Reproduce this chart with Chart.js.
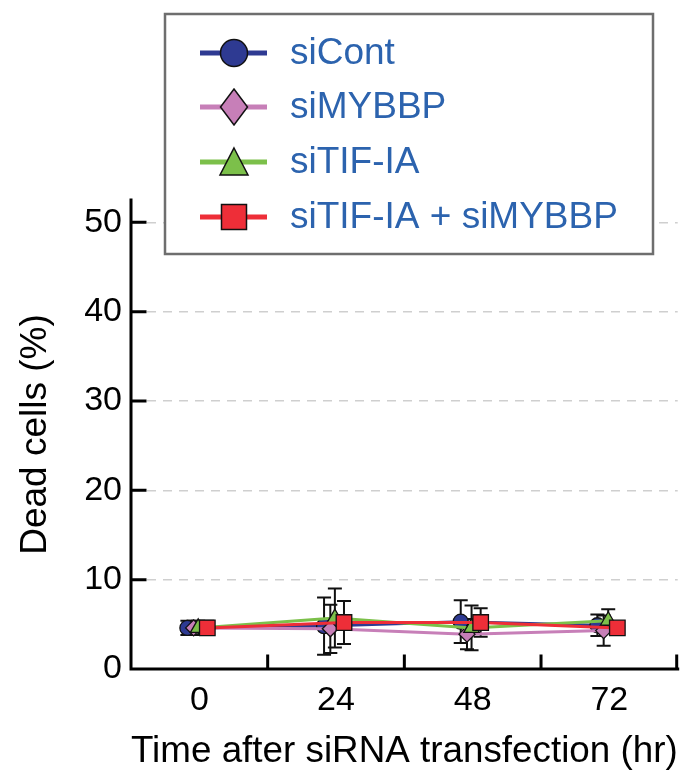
<!DOCTYPE html>
<html>
<head>
<meta charset="utf-8">
<script src="https://cdn.jsdelivr.net/npm/chart.js@4.4.1/dist/chart.umd.min.js"></script>
<style>
  html, body { margin: 0; padding: 0; background: #fff; }
  #wrap { width: 690px; height: 775px; }
</style>
</head>
<body>
<div id="wrap"><canvas id="chart-dead"></canvas></div>
<script>
// values (dead cells %, mean and error)
var hours = [0, 24, 48, 72];
var seriesNames = ["siCont", "siMYBBP", "siTIF-IA", "siTIF-IA + siMYBBP"];
var siCont = [4.6, 4.8, 5.3, 4.9];
var siContErr = [0.8, 3.2, 2.4, 1.2];
var siMYBBP = [4.6, 4.5, 3.9, 4.3];
var siMYBBPErr = [0.8, 2.7, 1.7, 1.7];
var siTIF = [4.6, 5.7, 4.6, 5.4];
var siTIFErr = [0.8, 3.3, 2.5, 1.3];
var siBoth = [4.6, 5.2, 5.2, 4.6];
var siBothErr = [0.8, 2.4, 1.6, 0.5];
var yTicks = [0, 10, 20, 30, 40, 50];

// styling
var colors = ["#2E3A92", "#C77FB8", "#7CC04A", "#EE2E38"];
var shapes = ["circle", "rectRot", "triangle", "rect"];
var radii = [7.5, 8, 9, 11];
var nudge = [-2.1, -1.0, -0.2, 1.4]; // small horizontal dodge per series (hours)
var FONT = "'Liberation Sans', Arial, sans-serif";

var means = [siCont, siMYBBP, siTIF, siBoth];
var errs = [siContErr, siMYBBPErr, siTIFErr, siBothErr];

var datasets = means.map(function (vals, s) {
  return {
    label: seriesNames[s],
    data: hours.map(function (h, i) { return { x: h + nudge[s], y: vals[i] }; }),
    err: errs[s],
    order: 4 - s, // later series on top
    borderColor: colors[s],
    backgroundColor: colors[s],
    borderWidth: 3,
    tension: 0,
    pointStyle: shapes[s],
    pointRadius: radii[s],
    pointHoverRadius: radii[s],
    pointBackgroundColor: colors[s],
    pointBorderColor: "#111",
    pointBorderWidth: 1.3,
  };
});

var errorBars = {
  id: "errorBars",
  beforeDatasetsDraw: function (chart) {
    var ctx = chart.ctx;
    var y = chart.scales.y;
    ctx.save();
    ctx.strokeStyle = "#111";
    ctx.lineWidth = 2;
    chart.data.datasets.forEach(function (ds, s) {
      var meta = chart.getDatasetMeta(s);
      meta.data.forEach(function (pt, i) {
        var v = ds.data[i].y, e = ds.err[i];
        var top = y.getPixelForValue(v + e), bot = y.getPixelForValue(v - e);
        ctx.beginPath();
        ctx.moveTo(pt.x, top); ctx.lineTo(pt.x, bot);
        ctx.moveTo(pt.x - 7, top); ctx.lineTo(pt.x + 7, top);
        ctx.moveTo(pt.x - 7, bot); ctx.lineTo(pt.x + 7, bot);
        ctx.stroke();
      });
    });
    ctx.restore();
  },
};

var axisTicks = {
  id: "axisTicks",
  afterDraw: function (chart) {
    var ctx = chart.ctx, a = chart.chartArea;
    var x = chart.scales.x, y = chart.scales.y;
    ctx.save();
    ctx.strokeStyle = "#000";
    ctx.lineWidth = 3;
    ctx.lineCap = "square";
    ctx.beginPath();
    ctx.moveTo(a.left, a.top); ctx.lineTo(a.left, a.bottom); ctx.lineTo(a.right, a.bottom);
    yTicks.slice(1).forEach(function (v) {
      var py = y.getPixelForValue(v);
      ctx.moveTo(a.left, py); ctx.lineTo(a.left + 14, py);
    });
    // category boundaries between the time points
    [12, 36, 60, 84].forEach(function (v) {
      var px = Math.min(x.getPixelForValue(v), a.right - 1);
      ctx.moveTo(px, a.bottom); ctx.lineTo(px, a.bottom - 13);
    });
    ctx.stroke();
    ctx.restore();
  },
};

function legendShape(ctx, shape, cx, cy, color) {
  ctx.fillStyle = color;
  ctx.strokeStyle = "#111";
  ctx.lineWidth = 1.5;
  ctx.beginPath();
  if (shape === "circle") {
    ctx.arc(cx, cy, 13.5, 0, Math.PI * 2);
  } else if (shape === "rectRot") {
    ctx.moveTo(cx, cy - 18); ctx.lineTo(cx + 13.5, cy);
    ctx.lineTo(cx, cy + 18); ctx.lineTo(cx - 13.5, cy);
    ctx.closePath();
  } else if (shape === "triangle") {
    ctx.moveTo(cx, cy - 14); ctx.lineTo(cx + 14, cy + 13);
    ctx.lineTo(cx - 14, cy + 13);
    ctx.closePath();
  } else {
    ctx.rect(cx - 12.5, cy - 12.5, 25, 25);
  }
  ctx.fill();
  ctx.stroke();
}

var boxLegend = {
  id: "boxLegend",
  afterDraw: function (chart) {
    var ctx = chart.ctx;
    var rows = [53, 107, 162, 217];
    ctx.save();
    ctx.fillStyle = "#fff";
    ctx.fillRect(165, 14, 488, 240);
    ctx.strokeStyle = "#6e6e6e";
    ctx.lineWidth = 2.5;
    ctx.strokeRect(165, 14, 488, 240);
    seriesNames.forEach(function (name, s) {
      var cy = rows[s];
      ctx.strokeStyle = colors[s];
      ctx.lineWidth = 5;
      ctx.beginPath();
      ctx.moveTo(200, cy); ctx.lineTo(267, cy);
      ctx.stroke();
      legendShape(ctx, shapes[s], 234, cy, colors[s]);
      ctx.fillStyle = "#2C63AE";
      ctx.font = "37px " + FONT;
      ctx.textBaseline = "middle";
      ctx.textAlign = "left";
      ctx.fillText(name, 290, cy + 1);
    });
    ctx.restore();
  },
};

new Chart(document.getElementById("chart-dead"), {
  type: "line",
  data: { datasets: datasets },
  plugins: [errorBars, axisTicks, boxLegend],
  options: {
    responsive: true,
    maintainAspectRatio: false,
    animation: false,
    events: [],
    layout: { padding: { top: 200, right: 3, left: 0, bottom: 0 } },
    plugins: { legend: { display: false }, tooltip: { enabled: false } },
    scales: {
      x: {
        type: "linear",
        min: -12,
        max: 84,
        afterBuildTicks: function (scale) {
          scale.ticks = hours.map(function (h) { return { value: h }; });
        },
        afterFit: function (scale) { scale.height = 106; },
        grid: { display: false, drawTicks: false },
        border: { display: false },
        ticks: { color: "#000", padding: 11, maxRotation: 0, font: { family: FONT, size: 34 } },
        title: {
          display: true,
          text: "Time after siRNA transfection (hr)",
          color: "#000",
          font: { family: FONT, size: 37 },
          padding: { top: 0, bottom: 1 },
        },
      },
      y: {
        min: 0,
        max: 52.5,
        afterBuildTicks: function (scale) {
          scale.ticks = yTicks.map(function (v) { return { value: v }; });
        },
        afterFit: function (scale) { scale.width = 131; },
        grid: {
          drawTicks: false,
          lineWidth: 1.5,
          color: function (c) { return c.tick && c.tick.value === 0 ? "rgba(0,0,0,0)" : "#cfcfcf"; },
        },
        border: { display: false, dash: [9, 7] },
        ticks: { color: "#000", padding: 9, font: { family: FONT, size: 34 } },
        title: {
          display: true,
          text: "Dead cells (%)",
          color: "#000",
          font: { family: FONT, size: 37 },
          padding: { top: 14, bottom: 0 },
        },
      },
    },
  },
});
</script>
</body>
</html>
